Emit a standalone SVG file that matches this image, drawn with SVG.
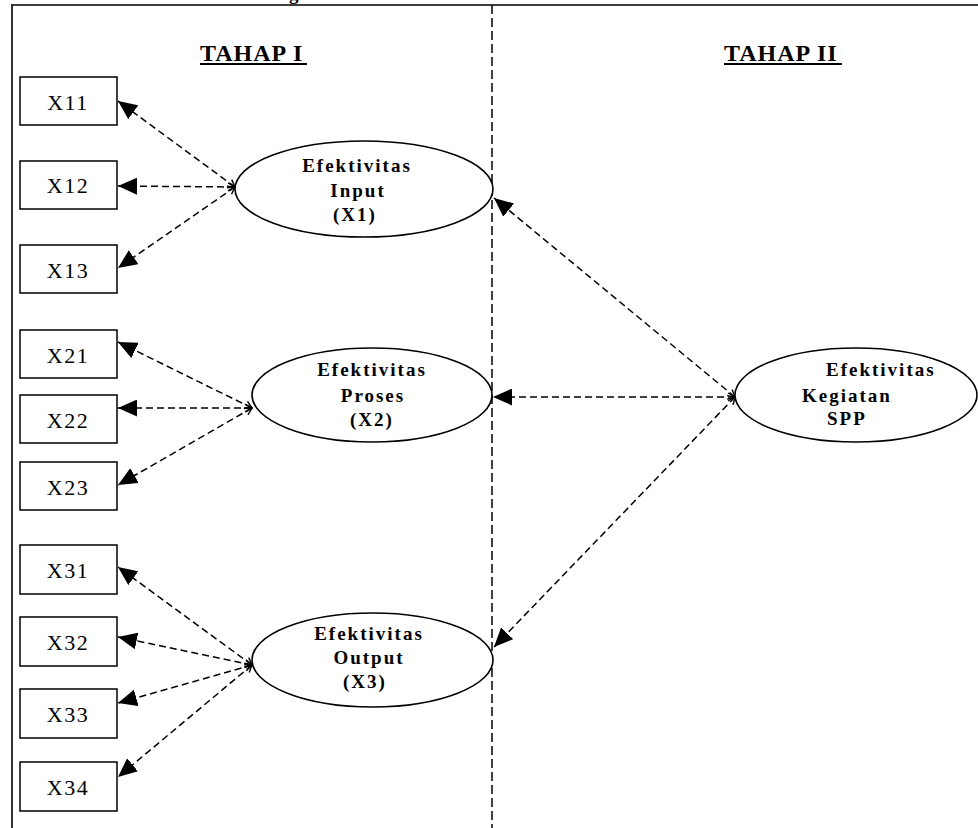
<svg xmlns="http://www.w3.org/2000/svg" width="978" height="828" viewBox="0 0 978 828">
<style>
.frame{stroke:#000;stroke-width:1.6;fill:none}
.vdash{stroke:#000;stroke-width:1.5;stroke-dasharray:9,4;fill:none}
.box{fill:#fff;stroke:#000;stroke-width:1.5}
.ell{fill:#fff;stroke:#000;stroke-width:1.6}
.conn{stroke:#000;stroke-width:1.5;stroke-dasharray:7,4;fill:none;marker-start:url(#tail);marker-end:url(#head)}
.blab{font-family:"Liberation Serif","Times New Roman",serif;font-size:22px;letter-spacing:1.5px;text-anchor:middle;fill:#000}
.elab{font-family:"Liberation Serif","Times New Roman",serif;font-size:19px;font-weight:bold;letter-spacing:2px;fill:#000}
.mid{text-anchor:middle}
.head{font-family:"Liberation Serif","Times New Roman",serif;font-size:24px;font-weight:bold;letter-spacing:1px;fill:#000}
</style>
<defs>
<marker id="head" viewBox="0 0 19 17" refX="19" refY="8.5" markerWidth="19" markerHeight="17" markerUnits="userSpaceOnUse" orient="auto">
<path d="M0,0 L19,8.5 L0,17 Z" fill="#000"/>
</marker>
<marker id="tail" viewBox="-1 -6 10 12" refX="0" refY="0" markerWidth="10" markerHeight="12" markerUnits="userSpaceOnUse" orient="auto">
<path d="M7,-4 L0,0 L7,4" fill="none" stroke="#000" stroke-width="1.4"/>
</marker>
</defs>
<rect width="978" height="828" fill="#fff"/>
<text class="elab" x="289" y="0">g</text>
<g id="frame">
<path class="frame" d="M11,5 H978 M12,5 V828"/>
<path class="vdash" d="M492,5 V828"/>
</g>
<g id="headings">
<text class="head" x="200" y="61">TAHAP I</text>
<path d="M200,64 H307" stroke="#000" stroke-width="2"/>
<text class="head" x="724" y="61">TAHAP II</text>
<path d="M724,64 H842" stroke="#000" stroke-width="2"/>
</g>
<g id="connectors">
<line class="conn" x1="235" y1="187" x2="118" y2="101"/>
<line class="conn" x1="235" y1="187" x2="118" y2="186"/>
<line class="conn" x1="235" y1="187" x2="118" y2="268"/>
<line class="conn" x1="252" y1="408" x2="118" y2="342"/>
<line class="conn" x1="252" y1="408" x2="118" y2="408"/>
<line class="conn" x1="252" y1="408" x2="118" y2="485"/>
<line class="conn" x1="252" y1="665" x2="118" y2="567"/>
<line class="conn" x1="252" y1="665" x2="118" y2="637"/>
<line class="conn" x1="252" y1="665" x2="118" y2="703"/>
<line class="conn" x1="252" y1="665" x2="118" y2="777"/>
<line class="conn" x1="735" y1="397" x2="494" y2="198"/>
<line class="conn" x1="735" y1="397" x2="493" y2="397"/>
<line class="conn" x1="735" y1="397" x2="494" y2="647"/>
</g>
<g id="X11"><rect class="box" x="20" y="77" width="97" height="48"/><text class="blab" x="68" y="110">X11</text></g>
<g id="X12"><rect class="box" x="20" y="161" width="97" height="48"/><text class="blab" x="68" y="193">X12</text></g>
<g id="X13"><rect class="box" x="20" y="245" width="97" height="48"/><text class="blab" x="68" y="278">X13</text></g>
<g id="X21"><rect class="box" x="20" y="330" width="97" height="48"/><text class="blab" x="68" y="363">X21</text></g>
<g id="X22"><rect class="box" x="20" y="395" width="97" height="48"/><text class="blab" x="68" y="428">X22</text></g>
<g id="X23"><rect class="box" x="20" y="462" width="97" height="48"/><text class="blab" x="68" y="495">X23</text></g>
<g id="X31"><rect class="box" x="20" y="545" width="97" height="49"/><text class="blab" x="68" y="578">X31</text></g>
<g id="X32"><rect class="box" x="20" y="617" width="97" height="49"/><text class="blab" x="68" y="650">X32</text></g>
<g id="X33"><rect class="box" x="20" y="689" width="97" height="49"/><text class="blab" x="68" y="722">X33</text></g>
<g id="X34"><rect class="box" x="20" y="762" width="97" height="49"/><text class="blab" x="68" y="795">X34</text></g>
<g id="X1">
<ellipse class="ell" cx="364" cy="189" rx="129" ry="48"/>
<text class="elab mid" x="357" y="172">Efektivitas</text>
<text class="elab mid" x="358" y="197">Input</text>
<text class="elab mid" x="355" y="221">(X1)</text>
</g>
<g id="X2">
<ellipse class="ell" cx="372" cy="395" rx="120" ry="47"/>
<text class="elab mid" x="372" y="376">Efektivitas</text>
<text class="elab mid" x="373" y="402">Proses</text>
<text class="elab mid" x="372" y="426">(X2)</text>
</g>
<g id="X3">
<ellipse class="ell" cx="372.5" cy="660" rx="120.5" ry="47"/>
<text class="elab mid" x="369" y="640">Efektivitas</text>
<text class="elab mid" x="369" y="664">Output</text>
<text class="elab mid" x="365" y="688">(X3)</text>
</g>
<g id="SPP">
<ellipse class="ell" cx="856" cy="395" rx="121" ry="47"/>
<text class="elab" x="826" y="376">Efektivitas</text>
<text class="elab" x="802" y="402">Kegiatan</text>
<text class="elab" x="827" y="425">SPP</text>
</g>
</svg>
